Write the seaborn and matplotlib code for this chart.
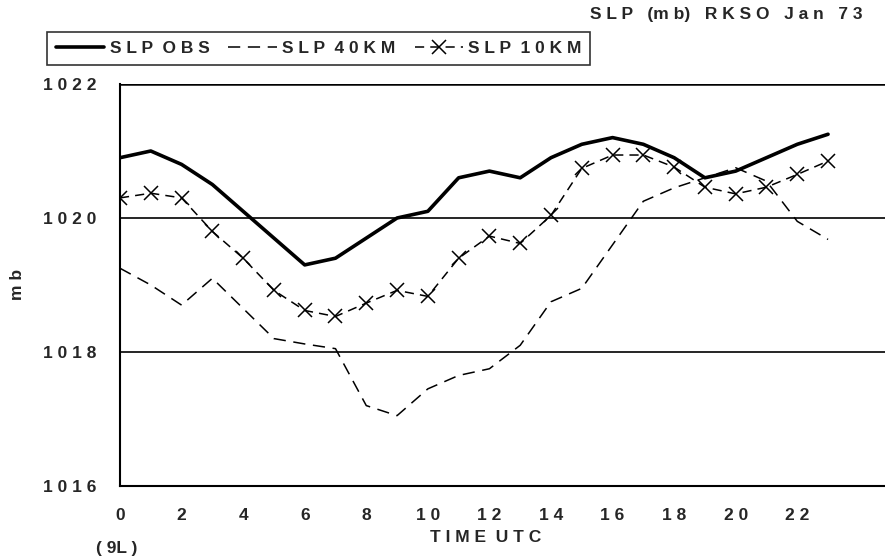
import matplotlib
matplotlib.use("Agg")
import matplotlib.pyplot as plt
import seaborn as sns
import pandas as pd
import numpy as np

# ---- data ----
hours = list(range(24))
slp_obs = [1020.9, 1021.0, 1020.8, 1020.5, 1020.1, 1019.7, 1019.3, 1019.4,
           1019.7, 1020.0, 1020.1, 1020.6, 1020.7, 1020.6, 1020.9, 1021.1,
           1021.2, 1021.1, 1020.9, 1020.6, 1020.7, 1020.9, 1021.1, 1021.25]
slp_40km = [1019.25, 1019.0, 1018.7, 1019.1, 1018.65, 1018.2, 1018.12, 1018.05,
            1017.2, 1017.05, 1017.45, 1017.65, 1017.75, 1018.1, 1018.75, 1018.95,
            1019.6, 1020.25, 1020.45, 1020.6, 1020.75, 1020.55, 1019.95, 1019.68]
slp_10km = [1020.3, 1020.37, 1020.3, 1019.8, 1019.4, 1018.92, 1018.62, 1018.53,
            1018.73, 1018.92, 1018.83, 1019.4, 1019.73, 1019.62, 1020.04, 1020.74,
            1020.94, 1020.94, 1020.76, 1020.46, 1020.36, 1020.46, 1020.65, 1020.85]
series_names = ["SLP OBS", "SLP 40KM", "SLP 10KM"]
ytick_vals = [1016, 1018, 1020, 1022]
ytick_labels = ["1 0 1 6", "1 0 1 8", "1 0 2 0", "1 0 2 2"]
xtick_vals = list(range(25))
xtick_labels = ["0", "2", "4", "6", "8", "1 0", "1 2", "1 4", "1 6", "1 8", "2 0", "2 2"]
title = "S L P   (m b)   R K S O   J a n   7 3"
xlabel = "T I M E  U T C"
ylabel = "m b"
legend_labels = ["S L P  O B S", "S L P  4 0 K M", "S L P  1 0 K M"]

df = pd.DataFrame({"hour": hours, "obs": slp_obs, "km40": slp_40km, "km10": slp_10km})

sns.set_style("white")
plt.rcParams["font.family"] = ["Liberation Sans", "DejaVu Sans"]
plt.rcParams["font.weight"] = "bold"
FS = 12.5

fig = plt.figure(figsize=(8.85, 5.6), dpi=100)
ax = fig.add_axes([120 / 885, 1 - 486 / 560, 1 - 120 / 885, (486 - 84) / 560])

sns.lineplot(data=df, x="hour", y="obs", ax=ax, color="black", lw=2.6, label=legend_labels[0])
sns.lineplot(data=df, x="hour", y="km40", ax=ax, color="black", lw=1.1,
             label=legend_labels[1])
ax.lines[-1].set_linestyle((0, (8, 5)))
sns.lineplot(data=df, x="hour", y="km10", ax=ax, color="black", lw=1.1,
             marker="x", markersize=10, markeredgewidth=1.1,
             markeredgecolor="black", markerfacecolor="black", label=legend_labels[2])
ax.lines[-1].set_linestyle((0, (6, 4)))

ax.set_xlim(0, 24.85)
ax.set_ylim(1016, 1022)
for yv in [1018, 1020]:
    ax.axhline(yv, color="black", lw=1.2, zorder=0)
ax.axhline(1022, color="black", lw=1.8, zorder=0)

ax.set_yticks(ytick_vals)
ax.set_yticklabels(ytick_labels, fontsize=FS, fontweight="bold")
ax.set_xticks(xtick_vals)
lbls = []
it = iter(xtick_labels)
for v in xtick_vals:
    lbls.append(next(it) if (v % 2 == 0 and v <= 22) else "")
ax.set_xticklabels(lbls, fontsize=FS, fontweight="bold")
ax.tick_params(axis="x", direction="out", length=5, width=1.2, color="black", pad=11)
ax.tick_params(axis="y", direction="out", length=5, width=1.2, color="black", pad=12)

for s in ["top", "right"]:
    ax.spines[s].set_visible(False)
for s in ["left", "bottom"]:
    ax.spines[s].set_color("black")
    ax.spines[s].set_linewidth(1.5)

ax.set_xlabel("")
ax.set_ylabel("")
fig.text(486 / 885, 1 - 538 / 560, xlabel, ha="center", va="center", fontsize=FS, fontweight="bold")
fig.text(117 / 885, 1 - 549 / 560, "( 9L )", ha="center", va="center", fontsize=FS, fontweight="bold")
fig.text(17 / 885, 1 - 284 / 560, ylabel, ha="center", va="center", rotation=90, fontsize=FS,
         fontweight="bold")
fig.text(863 / 885, 1 - 15 / 560, title, ha="right", va="center", fontsize=FS, fontweight="bold")

ax.get_legend().remove()
handles, _ = ax.get_legend_handles_labels()
leg = fig.legend(handles, legend_labels, loc="upper left",
                 bbox_to_anchor=(47 / 885, 1 - 32 / 560), ncol=3, frameon=True,
                 fancybox=False, edgecolor="black", handlelength=2.8,
                 handletextpad=0.3, columnspacing=1.1, borderpad=0.5,
                 borderaxespad=0, prop={"size": FS, "weight": "bold"})
leg.get_frame().set_linewidth(1.2)

fig.savefig("out.png", dpi=100, facecolor="white")
